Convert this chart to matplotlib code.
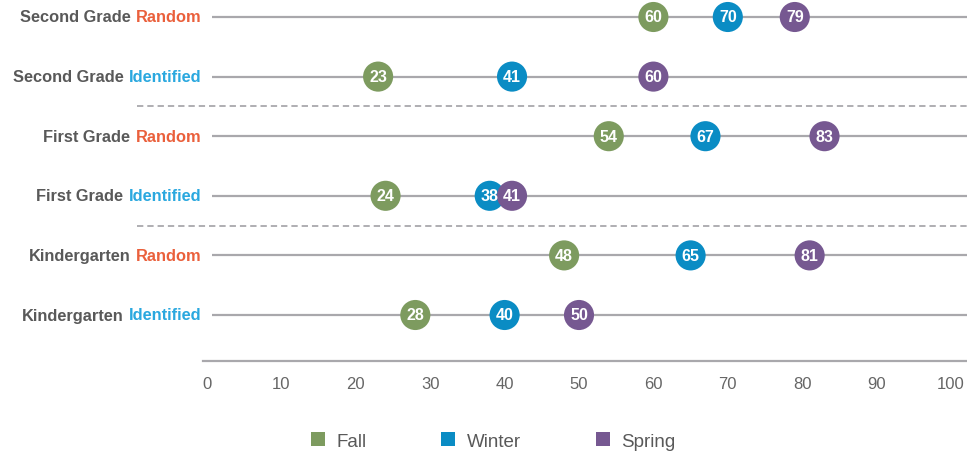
import matplotlib
matplotlib.use("Agg")
import matplotlib.pyplot as plt
from matplotlib.lines import Line2D

# data, bottom row first
grades = ["Kindergarten", "Kindergarten", "First Grade", "First Grade", "Second Grade", "Second Grade"]
groups = ["Identified", "Random", "Identified", "Random", "Identified", "Random"]
fall = [28, 48, 24, 54, 23, 60]
winter = [40, 65, 38, 67, 41, 70]
spring = [50, 81, 41, 83, 60, 79]
ticks = [0, 10, 20, 30, 40, 50, 60, 70, 80, 90, 100]

green = "#7d9b5f"
blue = "#0a8cc4"
purple = "#765891"
orange = "#ea603c"
light_blue = "#2aa8df"
gray_txt = "#595959"
line_gray = "#a9a8ac"

plt.rcParams["font.family"] = ["Liberation Sans", "DejaVu Sans"]

W, H = 967, 456
fig = plt.figure(figsize=(W / 100, H / 100), dpi=100)
# axes from px x=203 to right edge, from top to px y=362 (axis line)
ax = fig.add_axes([203 / W, 1 - 362 / H, 1 - 203 / W, 362 / H])

px_per_unit = 7.44
x0_px = 207
ax.set_xlim((203 - x0_px) / px_per_unit, (W - x0_px) / px_per_unit)
row_gap = 59.6
ax.set_ylim((316 - 362) / row_gap, 316 / row_gap)

rows = list(range(len(grades)))
xmax = ax.get_xlim()[1]

for y in rows:
    ax.plot([0.7, xmax], [y, y], color=line_gray, lw=1.6, zorder=1, solid_capstyle="butt")

for y in [1.5, 3.5]:
    ax.plot([-9.4, xmax], [y, y], color=line_gray, lw=1.3, ls=(0, (3.5, 2.2)),
            zorder=1, clip_on=False)

for vals, col in [(fall, green), (winter, blue), (spring, purple)]:
    ax.scatter(vals, rows, s=470, color=col, edgecolors="none", zorder=3)
    for v, y in zip(vals, rows):
        ax.text(v, y, str(v), color="white", fontsize=11.5, fontweight="bold",
                ha="center", va="center", zorder=4)

# spines / ticks
for s in ["top", "right", "left"]:
    ax.spines[s].set_visible(False)
ax.spines["bottom"].set_color(line_gray)
ax.spines["bottom"].set_linewidth(1.6)
ax.set_yticks([])
ax.set_xticks(ticks)
ax.set_xticklabels([str(t) for t in ticks])
ax.tick_params(axis="x", length=0, pad=11, labelsize=12, labelcolor="#666666")
ax.patch.set_visible(False)

# row labels: grade in gray, group in colour
fig.canvas.draw()
renderer = fig.canvas.get_renderer()
for y, g, grp in zip(rows, grades, groups):
    col = orange if grp == "Random" else light_blue
    t = ax.text(-0.7, y, grp, color=col, fontsize=11.8, fontweight="bold",
                ha="right", va="center", clip_on=False)
    bb = t.get_window_extent(renderer)
    ax.annotate(g, xy=(bb.x0, (bb.y0 + bb.y1) / 2), xycoords="figure pixels",
                xytext=(-4.2, 0), textcoords="offset points",
                color=gray_txt, fontsize=11.8, fontweight="bold",
                ha="right", va="center", annotation_clip=False)

handles = [Line2D([], [], marker="s", ls="none", markersize=10.5, color=c,
                  markeredgewidth=0) for c in [green, blue, purple]]
fig.legend(handles, ["Fall", "Winter", "Spring"], loc="center",
           bbox_to_anchor=(492 / W, 1 - 442 / H), ncol=3, frameon=False,
           fontsize=13.5, labelcolor=gray_txt, handletextpad=0.5,
           columnspacing=3.85, handlelength=1.0)

fig.savefig("out.png", dpi=100)
